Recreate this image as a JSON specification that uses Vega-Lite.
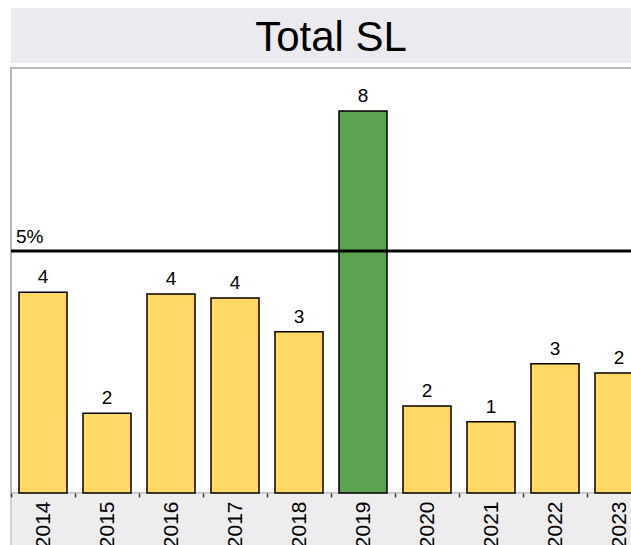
{
  "$schema": "https://vega.github.io/schema/vega-lite/v6.json",
  "width": 640,
  "height": 425,
  "autosize": "none",
  "padding": {"left": 11, "top": 68, "right": 0, "bottom": 60},
  "background": "white",
  "title": {"text": "Total SL", "fontSize": 42, "font": "Liberation Sans", "fontWeight": "normal", "color": "black", "anchor": "middle", "baseline": "alphabetic", "offset": -85},
  "config": {"view": {"stroke": "#b8b8b8", "strokeWidth": 2}},
  "data": {"values": [
    {"year": "2014", "value": 4.15},
    {"year": "2015", "value": 1.65},
    {"year": "2016", "value": 4.11},
    {"year": "2017", "value": 4.03},
    {"year": "2018", "value": 3.33},
    {"year": "2019", "value": 7.89},
    {"year": "2020", "value": 1.80},
    {"year": "2021", "value": 1.47},
    {"year": "2022", "value": 2.67},
    {"year": "2023", "value": 2.48}
  ]},
  "layer": [
    {
      "data": {"values": [{}]},
      "mark": {"type": "rect", "color": "#ededed", "stroke": "#c8c8c8", "strokeWidth": 1.5},
      "encoding": {
        "y": {"datum": -2, "type": "quantitative", "scale": {"domain": [0, 8.781], "nice": false, "zero": false}, "axis": null},
        "y2": {"datum": 0}
      }
    },
    {
      "data": {"values": [{}]},
      "mark": {"type": "rect", "color": "#ebebef"},
      "encoding": {
        "y": {"datum": 8.884, "type": "quantitative", "scale": {"domain": [0, 8.781], "nice": false, "zero": false}, "axis": null},
        "y2": {"datum": 10.021}
      }
    },
    {
      "mark": {"type": "bar", "stroke": "black", "strokeWidth": 1.5},
      "encoding": {
        "x": {"field": "year", "type": "ordinal", "scale": {"paddingInner": 0.25, "paddingOuter": 0.125},
          "axis": {"title": null, "labelAngle": -90, "labelFontSize": 21, "labelFont": "Liberation Sans", "labelColor": "black", "domain": false, "tickColor": "#333333", "tickSize": 4, "tickWidth": 1.5, "tickOffset": -32, "labelOffset": 32, "labelPadding": 4, "zindex": 1}},
        "y": {"field": "value", "type": "quantitative", "scale": {"domain": [0, 8.781], "nice": false, "zero": false}, "axis": null},
        "color": {"condition": {"test": "datum.value > 5", "value": "#5ba350"}, "value": "#ffd966"}
      }
    },
    {
      "mark": {"type": "text", "dy": -9, "baseline": "alphabetic", "fontSize": 19, "font": "Liberation Sans", "color": "black"},
      "encoding": {
        "x": {"field": "year", "type": "ordinal"},
        "y": {"field": "value", "type": "quantitative", "scale": {"domain": [0, 8.781], "nice": false, "zero": false}},
        "text": {"field": "value", "type": "quantitative", "format": ".0f"}
      }
    },
    {
      "data": {"values": [{}]},
      "mark": {"type": "rule", "color": "black", "strokeWidth": 3},
      "encoding": {
        "y": {"datum": 5, "type": "quantitative", "scale": {"domain": [0, 8.781], "nice": false, "zero": false}}
      }
    },
    {
      "data": {"values": [{}]},
      "mark": {"type": "text", "align": "left", "baseline": "alphabetic", "dx": -3, "dy": -8, "fontSize": 19, "font": "Liberation Sans", "color": "black", "text": "5%"},
      "encoding": {
        "x": {"datum": "2014", "type": "ordinal", "bandPosition": 0},
        "y": {"datum": 5, "type": "quantitative", "scale": {"domain": [0, 8.781], "nice": false, "zero": false}}
      }
    }
  ]
}
